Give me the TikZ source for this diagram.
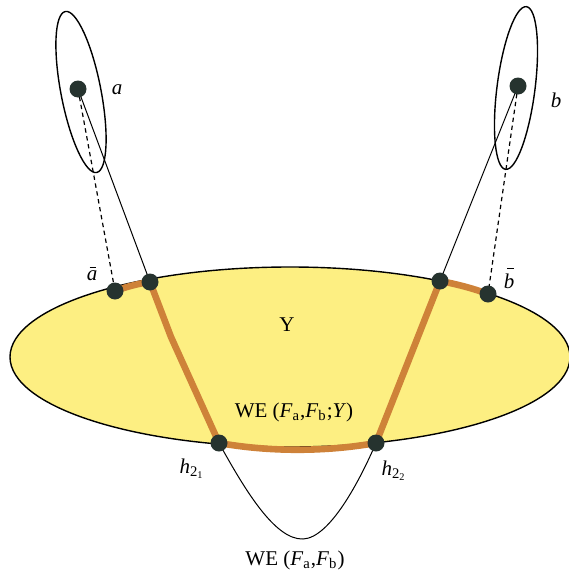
\documentclass[tikz,border=0pt]{standalone}
\usepackage{fontspec}
\setmainfont{Liberation Serif}
\usetikzlibrary{backgrounds}
\definecolor{wefill}{RGB}{253,239,130}
\definecolor{wepath}{RGB}{206,130,57}
\definecolor{wedot}{RGB}{38,51,47}
\newcommand{\ovl}[3]{\textit{#1}\llap{\rule[#2]{0.3em}{0.05em}\hspace{#3}}}

\begin{document}
\begin{tikzpicture}[
x=0.5pt,y=-0.5pt,
dot/.style={circle,fill=wedot,inner sep=0pt,minimum size=8.5pt},
lab/.style={font=\fontsize{10.5}{12}\selectfont,inner sep=1pt},
rim/.style={draw=black,line width=0.7pt},
thin/.style={black,line width=0.5pt},
tie/.style={black,line width=0.6pt,dash pattern=on 2.2pt off 1.8pt},
geo/.style={wepath,line width=3.3pt,line join=round}
]
\useasboundingbox (0,0) rectangle (568,578);
% points
\node[dot] (a) at (78,89) {};
\node[dot] (b) at (518,86) {};
\node[dot] (abar) at (115,291) {};
\node[dot] (pa) at (150,282) {};
\node[dot] (pb) at (440,281) {};
\node[dot] (bbar) at (488,294) {};
\node[dot] (h1) at (219,443) {};
\node[dot] (h2) at (376,443) {};
\coordinate (kink) at (171,337);
\coordinate (low) at (303,539);
% labels
\node[lab] (la) at (117,90) {\textit{a}};
\node[lab] (lb) at (556,100) {\textit{b}};
\node[lab] (labar) at (92,274) {\ovl{a}{0.62em}{0.06em}};
\node[lab] (lbbar) at (509,278) {\ovl{b}{0.92em}{0.03em}};
\node[lab] (ly) at (287,325) {Y};
\node[lab] (lwey) at (294,412) {WE (\textit{F}\textsubscript{a},\textit{F}\textsubscript{b};\textit{Y})};
\node[lab] (lh1) at (192,469) {\textit{h}\textsubscript{2\textsubscript{1}}};
\node[lab] (lh2) at (394,471) {\textit{h}\textsubscript{2\textsubscript{2}}};
\node[lab] (lwe) at (295,560) {WE (\textit{F}\textsubscript{a},\textit{F}\textsubscript{b})};
\begin{pgfonlayer}{background}
\draw[rim,fill=wefill] (290,357) ellipse [x radius=280, y radius=90];
\draw[rim,rotate around={11:(81,92)}] (81,92) ellipse [x radius=20, y radius=82];
\draw[rim,rotate around={-7.3:(516,88)}] (516,88) ellipse [x radius=19, y radius=82];
\draw[tie] (a.center) -- (abar.center);
\draw[tie] (b.center) -- (bbar.center);
\draw[thin] (a.center) -- (pa.center);
\draw[thin] (b.center) -- (pb.center);
\draw[thin] (h1.center) .. controls (245,490) and (275,540) .. (low)
  .. controls (330,538) and (360,480) .. (h2.center);
\draw[geo] (abar.center) .. controls (127,286.5) and (139,283.5) .. (pa.center)
  -- (kink) -- (h1.center) .. controls (270,452) and (325,452) .. (h2.center)
  -- (pb.center) .. controls (456,284) and (472,288) .. (bbar.center);
\end{pgfonlayer}
\end{tikzpicture}
\end{document}
